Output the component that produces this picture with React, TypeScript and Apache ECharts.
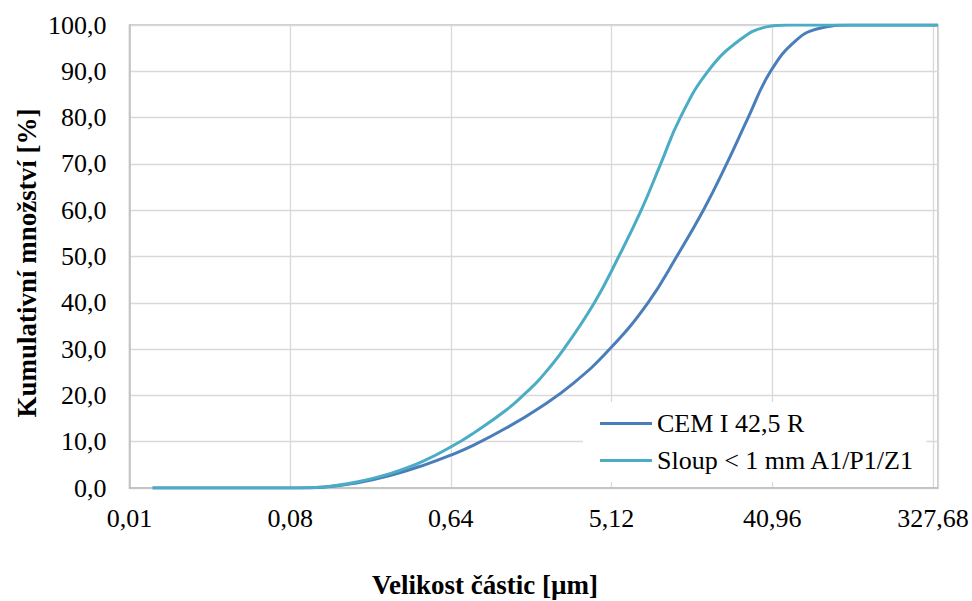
import React, { useEffect, useRef } from "react";
import * as echarts from "echarts";

// Particle size (µm) and cumulative passing (%) for each material
const cemSizes = [0.0135, 0.0908, 0.122, 0.189, 0.291, 0.448, 0.64, 0.855, 1.317, 2.03, 3.12, 5.0, 8.2, 11.9, 16.8, 22.7, 30.0, 40.1, 56.2, 75.9, 112, 350];
const cemValues = [0, 0, 0.15, 1.1, 2.7, 4.9, 7.1, 9.2, 13.0, 17.4, 22.6, 30, 40, 50, 60, 70, 80, 90, 96.8, 99.3, 100, 100];

const sloupSizes = [0.0135, 0.0908, 0.122, 0.189, 0.291, 0.448, 0.72, 0.855, 1.317, 1.67, 2.03, 2.76, 4.1, 5.62, 7.52, 9.67, 12.46, 17.82, 27.0, 38.1, 50, 350];
const sloupValues = [0, 0, 0.2, 1.3, 3.1, 5.8, 10, 11.8, 16.9, 20.4, 23.6, 30, 40, 50, 60, 70, 80, 90, 96.8, 99.6, 100, 100];

const seriesNames = ["CEM I 42,5 R", "Sloup < 1 mm A1/P1/Z1"];
const xTickLabels = ["0,01", "0,08", "0,64", "5,12", "40,96", "327,68"];

// Logarithmic size axis in base 8, starting at 0.01 µm
const SIZE_MIN = 0.01;
const SIZE_MAX = 350;
const LOG_BASE = 8;
const toLog = (s: number) => Math.log(s / SIZE_MIN) / Math.log(LOG_BASE);

const FONT = "Liberation Serif";

export default function App() {
  const ref = useRef<HTMLDivElement>(null);

  useEffect(() => {
    if (!ref.current) return;
    const chart = echarts.init(ref.current, undefined, { renderer: "svg" });

    const pairs = (sizes: number[], values: number[]) =>
      sizes.map((s, i) => [toLog(s), values[i]]);

    chart.setOption({
      animation: false,
      backgroundColor: "#ffffff",
      textStyle: { fontFamily: FONT },
      grid: {
        left: 129.5,
        right: 34,
        top: 25,
        bottom: 113,
        show: true,
        borderColor: "#bfbfbf",
        borderWidth: 1.5,
        backgroundColor: "transparent",
      },
      xAxis: {
        type: "value",
        min: 0,
        max: toLog(SIZE_MAX),
        interval: 1,
        axisLine: { show: true, lineStyle: { color: "#bfbfbf", width: 1.5 } },
        axisTick: { show: false },
        splitLine: { show: true, lineStyle: { color: "#d9d9d9", width: 1.3 } },
        axisLabel: {
          margin: 17,
          color: "#000",
          fontFamily: FONT,
          fontSize: 26,
          formatter: (v: number) => {
            const i = Math.round(v);
            return Math.abs(v - i) < 1e-6 && xTickLabels[i] !== undefined ? xTickLabels[i] : "";
          },
        },
      },
      yAxis: {
        type: "value",
        min: 0,
        max: 100,
        interval: 10,
        axisLine: { show: true, lineStyle: { color: "#bfbfbf", width: 1.5 } },
        axisTick: { show: false },
        splitLine: { show: true, lineStyle: { color: "#d9d9d9", width: 1.3 } },
        axisLabel: {
          margin: 23,
          color: "#000",
          fontFamily: FONT,
          fontSize: 26,
          formatter: (v: number) => v.toFixed(1).replace(".", ","),
        },
      },
      legend: {
        orient: "vertical",
        left: 583,
        top: 402,
        padding: [8, 12, 8, 17],
        backgroundColor: "#ffffff",
        itemWidth: 52,
        itemHeight: 3,
        itemGap: 10,
        icon: "rect",
        textStyle: { fontFamily: FONT, fontSize: 26, color: "#000", lineHeight: 27 },
        data: seriesNames,
      },
      series: [
        {
          name: seriesNames[0],
          type: "line",
          data: pairs(cemSizes, cemValues),
          showSymbol: false,
          smooth: 0.45,
          lineStyle: { color: "#4a7ebb", width: 3 },
          itemStyle: { color: "#4a7ebb" },
          z: 3,
        },
        {
          name: seriesNames[1],
          type: "line",
          data: pairs(sloupSizes, sloupValues),
          showSymbol: false,
          smooth: 0.45,
          lineStyle: { color: "#4bacc6", width: 3 },
          itemStyle: { color: "#4bacc6" },
          z: 4,
        },
      ],
      graphic: [
        {
          type: "text",
          x: 485,
          y: 585,
          style: {
            text: "Velikost částic [µm]",
            fontFamily: FONT,
            fontSize: 27,
            fontWeight: "bold",
            fill: "#000",
            align: "center",
            verticalAlign: "middle",
          },
        },
        {
          type: "text",
          x: 27,
          y: 263,
          rotation: Math.PI / 2,
          style: {
            text: "Kumulativní množství [%]",
            fontFamily: FONT,
            fontSize: 27,
            fontWeight: "bold",
            fill: "#000",
            align: "center",
            verticalAlign: "middle",
          },
        },
      ],
    });

    return () => chart.dispose();
  }, []);

  return (
    <div
      ref={ref}
      style={{ position: "fixed", left: 0, top: 0, width: 972, height: 601 }}
    />
  );
}
